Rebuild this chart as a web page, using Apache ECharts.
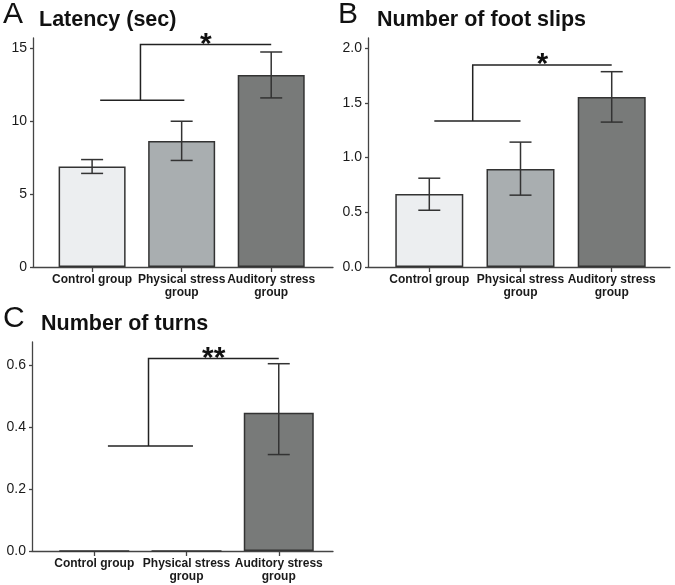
<!DOCTYPE html>
<html>
<head>
<meta charset="utf-8">
<script src="https://cdn.jsdelivr.net/npm/echarts@6/dist/echarts.min.js"></script>
<style>html,body{margin:0;padding:0;background:#fff}#c{width:675px;height:585px}</style>
</head>
<body>
<div id="c"></div>
<script>
// ---- data ----
const categories = ['Control group', 'Physical stress\ngroup', 'Auditory stress\ngroup'];
const barColors = ['#eceef0', '#a9aeb0', '#787a79'];

const latencyMean = [6.9, 8.65, 13.17];
const latencyLow  = [6.42, 7.31, 11.6];
const latencyHigh = [7.37, 10.0, 14.75];
const latencyTicks = [0, 5, 10, 15];

const slipsMean = [0.668, 0.897, 1.554];
const slipsLow  = [0.519, 0.657, 1.325];
const slipsHigh = [0.812, 1.142, 1.786];
const slipsTicks = [0, 0.5, 1.0, 1.5, 2.0];

const turnsMean = [0, 0, 0.446];
const turnsLow  = [null, null, 0.311];
const turnsHigh = [null, null, 0.604];
const turnsTicks = [0, 0.2, 0.4, 0.6];

// significance brackets: [lowerY, lowerX0, lowerX1, stemX, upperY, upperX1]
const sigA = [11.44, 0.09, 1.03, 0.54, 15.27, 2.0];
const sigB = [1.334, 0.055, 1.0, 0.476, 1.846, 2.0];
const sigC = [0.339, 0.148, 1.07, 0.588, 0.621, 2.0];
const sigLabels = ['*', '*', '**'];

const panelLetters = ['A', 'B', 'C'];
const panelTitles = ['Latency (sec)', 'Number of foot slips', 'Number of turns'];

// ---- build ----
const FONT = 'Liberation Sans, Arial, sans-serif';
const grids = [
  {left: 33, top: 38, width: 300, height: 229},
  {left: 368, top: 38, width: 302, height: 229},
  {left: 32, top: 342, width: 301, height: 209}
];
const xRanges = [[-0.66, 2.69], [-0.672, 2.639], [-0.675, 2.588]];
const yMax = [15.71, 2.094, 0.674];
const yTicks = [latencyTicks, slipsTicks, turnsTicks];
const yDigits = [0, 1, 1];
const means = [latencyMean, slipsMean, turnsMean];
const lows = [latencyLow, slipsLow, turnsLow];
const highs = [latencyHigh, slipsHigh, turnsHigh];
const sigs = [sigA, sigB, sigC];
const barWidths = [67, 68, 70];

const xAxes = [], yAxes = [], series = [];
for (let i = 0; i < 3; i++) {
  xAxes.push({
    type: 'value', gridIndex: i, min: xRanges[i][0], max: xRanges[i][1],
    splitLine: {show: false},
    axisLine: {show: true, onZero: false, lineStyle: {color: '#444', width: 1.3}},
    axisTick: {show: true, customValues: [0, 1, 2], length: 5, lineStyle: {color: '#444', width: 1.3}},
    axisLabel: {customValues: [0, 1, 2], formatter: v => categories[Math.round(v)],
      hideOverlap: false, showMinLabel: true, showMaxLabel: true,
      fontFamily: FONT, fontWeight: 'bold', fontSize: 12,
      color: '#1a1a1a', lineHeight: 13, margin: 6}
  });
  yAxes.push({
    type: 'value', gridIndex: i, min: 0, max: yMax[i],
    splitLine: {show: false},
    axisLine: {show: true, onZero: false, lineStyle: {color: '#444', width: 1.3}},
    axisTick: {show: true, customValues: yTicks[i], length: 3, lineStyle: {color: '#444', width: 1.3}},
    axisLabel: {customValues: yTicks[i], formatter: v => v.toFixed(yDigits[i]),
      fontFamily: FONT, fontSize: 14, color: '#1a1a1a', margin: 6}
  });
  series.push({
    type: 'bar', xAxisIndex: i, yAxisIndex: i, barWidth: barWidths[i],
    data: means[i].map((v, k) => ({value: [k, v], itemStyle: {color: barColors[k]}})),
    itemStyle: {borderColor: '#333', borderWidth: 1.5},
    silent: true, animation: false
  });
  const errData = [];
  means[i].forEach((v, k) => { if (lows[i][k] != null) errData.push([k, lows[i][k], highs[i][k]]); });
  series.push({
    type: 'custom', xAxisIndex: i, yAxisIndex: i, data: errData, silent: true, animation: false,
    encode: {x: 0, y: [1, 2]}, z: 5,
    renderItem: (params, api) => {
      const x = api.value(0);
      const pl = api.coord([x, api.value(1)]);
      const ph = api.coord([x, api.value(2)]);
      const hw = 11;
      const st = {stroke: '#333', lineWidth: 1.5};
      return {type: 'group', children: [
        {type: 'line', shape: {x1: pl[0], y1: pl[1], x2: ph[0], y2: ph[1]}, style: st},
        {type: 'line', shape: {x1: ph[0] - hw, y1: ph[1], x2: ph[0] + hw, y2: ph[1]}, style: st},
        {type: 'line', shape: {x1: pl[0] - hw, y1: pl[1], x2: pl[0] + hw, y2: pl[1]}, style: st}
      ]};
    }
  });
  const lbl = sigLabels[i];
  series.push({
    type: 'custom', xAxisIndex: i, yAxisIndex: i, data: [sigs[i]], silent: true, animation: false,
    encode: {x: [1, 2, 3, 5], y: [0, 4]}, z: 6,
    renderItem: (params, api) => {
      const ly = api.value(0), x0 = api.value(1), x1 = api.value(2), xm = api.value(3), ty = api.value(4), x2 = api.value(5);
      const a = api.coord([x0, ly]), b = api.coord([x1, ly]);
      const m0 = api.coord([xm, ly]), m1 = api.coord([xm, ty]), t = api.coord([x2, ty]);
      const mid = api.coord([(xm + x2) / 2, ty]);
      const st = {stroke: '#222', lineWidth: 1.5, fill: null};
      return {type: 'group', children: [
        {type: 'polyline', shape: {points: [a, b]}, style: st},
        {type: 'polyline', shape: {points: [m0, m1, t]}, style: st},
        {type: 'text', x: mid[0], y: mid[1] + 15, style: {text: lbl, fill: '#111',
          font: 'bold 30px "Liberation Sans", Arial, sans-serif', align: 'center', verticalAlign: 'bottom'}}
      ]};
    }
  });
}

const titlePos = [[3, 0, 39, 9], [338, 0, 377, 9], [3, 304, 41, 313]];
const titles = [];
for (let i = 0; i < 3; i++) {
  titles.push({text: panelLetters[i], left: titlePos[i][0], top: titlePos[i][1], padding: 0,
    textStyle: {fontFamily: FONT, fontWeight: 'normal', fontSize: 30, color: '#111'}});
  titles.push({text: panelTitles[i], left: titlePos[i][2], top: titlePos[i][3], padding: 0,
    textStyle: {fontFamily: FONT, fontWeight: 'bold', fontSize: 21.5, color: '#111'}});
}

const chart = echarts.init(document.getElementById('c'), null, {renderer: 'canvas'});
chart.setOption({
  animation: false,
  backgroundColor: '#fff',
  title: titles,
  grid: grids,
  xAxis: xAxes,
  yAxis: yAxes,
  series: series
});
</script>
</body>
</html>
